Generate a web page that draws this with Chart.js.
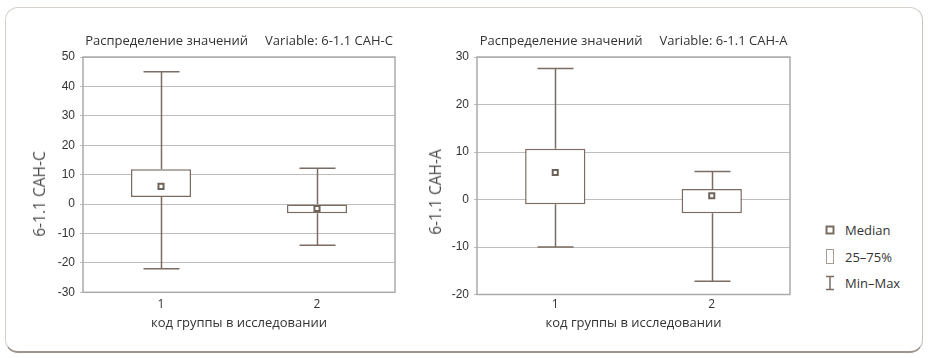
<!DOCTYPE html>
<html><head><meta charset="utf-8">
<script src="https://cdn.jsdelivr.net/npm/chart.js@4/dist/chart.umd.min.js"></script>
<style>
html,body{margin:0;padding:0;background:#fff}
body{width:929px;height:358px;overflow:hidden;position:relative;font-family:"Open Sans",sans-serif;color:#333}
#frame{position:absolute;left:5px;top:7px;width:918px;height:346px;box-sizing:border-box;border:1.5px solid #d6d1cb;border-bottom:2px solid #9d958d;border-right:1.5px solid #c8c2bb;border-radius:13px}
canvas{position:absolute;top:0}
.title{position:absolute;top:32px;height:16px;line-height:16px;font-size:13px;display:flex;justify-content:center;gap:17px;white-space:nowrap}
.ytitle{position:absolute;font-family:"Open Sans",sans-serif;font-size:15.5px;color:#4a4a4a;white-space:nowrap;transform:translate(-50%,-50%) rotate(-90deg)}
.leg{position:absolute;left:845px;font-size:13px;line-height:16px;white-space:nowrap}
svg{position:absolute}
</style></head>
<body>
<div id="frame"></div>
<canvas id="c1" width="420" height="345" style="left:0px"></canvas>
<canvas id="c2" width="420" height="345" style="left:400px"></canvas>
<div class="title" style="left:83px;width:312px"><span>Распределение значений</span><span>Variable: 6-1.1 САН-С</span></div>
<div class="title" style="left:477px;width:313px"><span>Распределение значений</span><span>Variable: 6-1.1 САН-А</span></div>
<div class="ytitle" style="left:39px;top:194px">6-1.1 САН-С</div>
<div class="ytitle" style="left:435px;top:192px">6-1.1 САН-А</div>

<svg style="left:824px;top:224px" width="12" height="72">
  <rect x="2.5" y="2.5" width="7" height="7" fill="#fff" stroke="#7a6c62" stroke-width="2"/>
  <rect x="2.5" y="25.5" width="7" height="14" fill="#fff" stroke="#a59d95" stroke-width="1"/>
  <line x1="6" y1="52" x2="6" y2="66" stroke="#7a6c62" stroke-width="1.5"/>
  <line x1="2" y1="52.5" x2="10" y2="52.5" stroke="#7a6c62" stroke-width="1.5"/>
  <line x1="2" y1="65.5" x2="10" y2="65.5" stroke="#7a6c62" stroke-width="1.5"/>
</svg>
<div class="leg" style="top:222px">Median</div>
<div class="leg" style="top:249px">25–75%</div>
<div class="leg" style="top:275px">Min–Max</div>

<script>
// ---- data ----
const categories = ['1', '2'];
const xTitle = 'код группы в исследовании';

// Variable: 6-1.1 САН-С
const cMin    = [-22, -14];
const cQ1     = [2.4, -3.1];
const cMedian = [6, -1.5];
const cQ3     = [11.8, 0];
const cMax    = [45, 12.2];
const cTicks  = {min: -30, max: 50, step: 10};

// Variable: 6-1.1 САН-А
const aMin    = [-10, -17.2];
const aQ1     = [-1, -2.9];
const aMedian = [5.7, 0.8];
const aQ3     = [10.7, 2.2];
const aMax    = [27.6, 5.9];
const aTicks  = {min: -20, max: 30, step: 10};

// ---- styles ----
const BOX = '#7a6c62';
const GRID = '#bdbdbd';
const FRAME = '#ababab';

const whiskers = {
  id: 'whiskers',
  afterDatasetsDraw(chart, args, o) {
    const {ctx, scales: {x, y}} = chart;
    ctx.save();
    ctx.strokeStyle = BOX;
    ctx.lineWidth = 1.5;
    o.mins.forEach((mn, i) => {
      const cx = Math.round(x.getPixelForValue(i)) + 0.5;
      const segs = [[o.q3s[i], o.maxs[i]], [o.q1s[i], mn]];
      segs.forEach(([from, to]) => {
        const y0 = y.getPixelForValue(from), y1 = y.getPixelForValue(to);
        ctx.beginPath();
        ctx.moveTo(cx, y0); ctx.lineTo(cx, y1);
        ctx.moveTo(cx - o.cap / 2, y1); ctx.lineTo(cx + o.cap / 2, y1);
        ctx.stroke();
      });
    });
    ctx.restore();
  }
};

const plotFrame = {
  id: 'plotFrame',
  beforeDatasetsDraw(chart) {
    const {ctx, chartArea: a} = chart;
    ctx.save();
    ctx.strokeStyle = FRAME;
    ctx.lineWidth = 1.5;
    ctx.strokeRect(a.left, a.top, a.right - a.left, a.bottom - a.top);
    ctx.restore();
  }
};

function makeChart(id, mins, q1s, meds, q3s, maxs, tk, yWidth, xHeight, padRight, tickPad) {
  return new Chart(document.getElementById(id), {
    type: 'bar',
    data: {
      labels: categories,
      datasets: [
        {
          label: '25–75%',
          data: q1s.map((v, i) => [v, q3s[i]]),
          backgroundColor: '#ffffff',
          borderColor: BOX,
          borderWidth: 1.5,
          borderSkipped: false,
          barPercentage: 0.385,
          categoryPercentage: 1,
          order: 2
        },
        {
          type: 'line',
          label: 'Median',
          data: meds,
          showLine: false,
          pointStyle: 'rect',
          pointRadius: 3.6,
          pointBorderWidth: 2,
          pointBackgroundColor: '#ffffff',
          pointBorderColor: '#6f6359',
          order: 1
        }
      ]
    },
    options: {
      responsive: false,
      animation: false,
      devicePixelRatio: 1,
      layout: {padding: {left: 0, top: 57, right: padRight, bottom: 0}},
      plugins: {
        legend: {display: false},
        tooltip: {enabled: false},
        whiskers: {mins, q1s, q3s, maxs, cap: 36}
      },
      scales: {
        x: {
          grid: {display: false, drawTicks: false},
          border: {display: false},
          ticks: {color: '#333', font: {family: 'Open Sans', size: 12}, padding: tickPad},
          title: {display: true, text: xTitle, color: '#333', font: {family: 'Open Sans', size: 13}, padding: {top: 0, bottom: 14}},
          afterFit: s => { s.height = xHeight; }
        },
        y: {
          min: tk.min, max: tk.max,
          ticks: {stepSize: tk.step, color: '#333', font: {family: 'Liberation Sans', size: 12}, padding: 5},
          grid: {color: GRID, lineWidth: 1, tickLength: 3},
          border: {display: false},
          afterFit: s => { s.width = yWidth; }
        }
      }
    },
    plugins: [plotFrame, whiskers]
  });
}

makeChart('c1', cMin, cQ1, cMedian, cQ3, cMax, cTicks, 83, 52.7, 25, 5);
makeChart('c2', aMin, aQ1, aMedian, aQ3, aMax, aTicks, 77, 50.5, 30, 3);
</script>
</body></html>
